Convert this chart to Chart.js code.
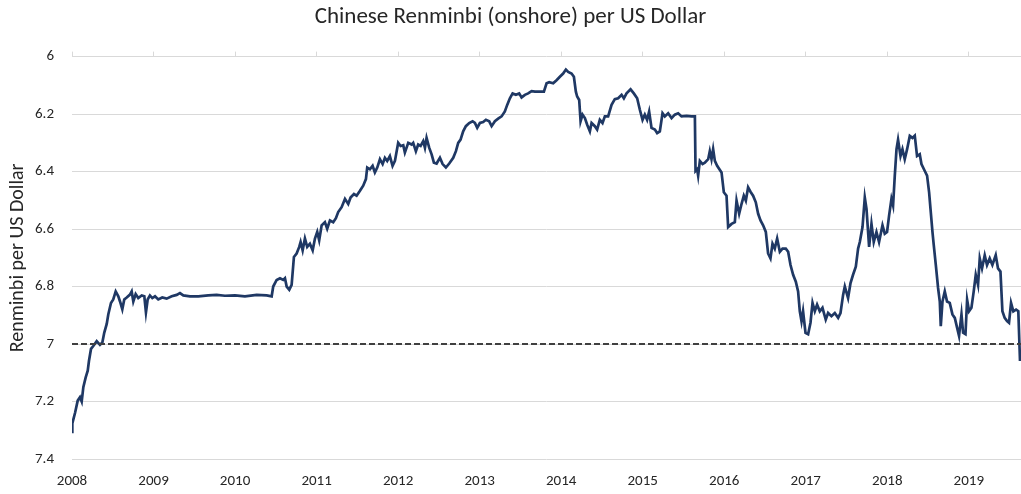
<!DOCTYPE html>
<html>
<head>
<meta charset="utf-8">
<script src="https://cdn.jsdelivr.net/npm/chart.js@4.4.1/dist/chart.umd.min.js"></script>
<style>
  body { margin: 0; background: #fff; }
</style>
</head>
<body>
<canvas id="cnyChart" width="1021" height="494"></canvas>
<script>
// decimal years and CNY per USD
var dates = [
  2008.000, 2008.004, 2008.037, 2008.070, 2008.098, 2008.119, 2008.139, 2008.168, 2008.193, 2008.208,
  2008.233, 2008.261, 2008.303, 2008.343, 2008.372, 2008.396, 2008.426, 2008.445, 2008.478, 2008.506,
  2008.536, 2008.568, 2008.589, 2008.617, 2008.641, 2008.671, 2008.711, 2008.732, 2008.752, 2008.781,
  2008.813, 2008.855, 2008.887, 2008.907, 2008.928, 2008.956, 2008.985, 2009.018, 2009.058, 2009.107,
  2009.161, 2009.223, 2009.284, 2009.324, 2009.365, 2009.447, 2009.549, 2009.671, 2009.774, 2009.876,
  2009.999, 2010.121, 2010.265, 2010.387, 2010.449, 2010.468, 2010.510, 2010.551, 2010.591, 2010.612,
  2010.633, 2010.665, 2010.694, 2010.722, 2010.755, 2010.787, 2010.804, 2010.829, 2010.857, 2010.885,
  2010.918, 2010.952, 2010.980, 2011.008, 2011.032, 2011.062, 2011.102, 2011.130, 2011.164, 2011.204,
  2011.237, 2011.265, 2011.307, 2011.348, 2011.388, 2011.417, 2011.458, 2011.491, 2011.532, 2011.572,
  2011.605, 2011.621, 2011.654, 2011.687, 2011.715, 2011.744, 2011.777, 2011.810, 2011.838, 2011.866,
  2011.899, 2011.932, 2011.961, 2012.001, 2012.031, 2012.063, 2012.083, 2012.124, 2012.166, 2012.185,
  2012.218, 2012.246, 2012.276, 2012.308, 2012.329, 2012.349, 2012.381, 2012.411, 2012.439, 2012.472,
  2012.513, 2012.546, 2012.586, 2012.627, 2012.676, 2012.709, 2012.737, 2012.766, 2012.798, 2012.831,
  2012.872, 2012.913, 2012.942, 2012.970, 2013.003, 2013.043, 2013.077, 2013.117, 2013.147, 2013.187,
  2013.227, 2013.269, 2013.309, 2013.338, 2013.371, 2013.404, 2013.444, 2013.485, 2013.514, 2013.555,
  2013.595, 2013.637, 2013.678, 2013.739, 2013.788, 2013.821, 2013.853, 2013.902, 2013.943, 2013.984,
  2014.024, 2014.058, 2014.086, 2014.127, 2014.156, 2014.180, 2014.196, 2014.221, 2014.238, 2014.262,
  2014.291, 2014.319, 2014.352, 2014.373, 2014.413, 2014.441, 2014.474, 2014.507, 2014.536, 2014.576,
  2014.618, 2014.658, 2014.699, 2014.741, 2014.769, 2014.802, 2014.851, 2014.891, 2014.932, 2014.965,
  2014.998, 2015.026, 2015.054, 2015.079, 2015.108, 2015.149, 2015.177, 2015.210, 2015.243, 2015.271,
  2015.312, 2015.354, 2015.394, 2015.435, 2015.476, 2015.538, 2015.599, 2015.640, 2015.648, 2015.668,
  2015.680, 2015.701, 2015.734, 2015.762, 2015.803, 2015.823, 2015.844, 2015.864, 2015.885, 2015.913,
  2015.967, 2015.995, 2016.028, 2016.048, 2016.090, 2016.130, 2016.151, 2016.183, 2016.212, 2016.240,
  2016.265, 2016.293, 2016.322, 2016.354, 2016.387, 2016.416, 2016.445, 2016.477, 2016.510, 2016.538,
  2016.567, 2016.592, 2016.620, 2016.649, 2016.682, 2016.715, 2016.755, 2016.784, 2016.813, 2016.845,
  2016.878, 2016.906, 2016.927, 2016.948, 2016.967, 2016.997, 2017.029, 2017.058, 2017.083, 2017.111,
  2017.139, 2017.172, 2017.205, 2017.245, 2017.274, 2017.315, 2017.356, 2017.397, 2017.426, 2017.458,
  2017.479, 2017.519, 2017.549, 2017.580, 2017.614, 2017.642, 2017.663, 2017.696, 2017.724, 2017.745,
  2017.777, 2017.806, 2017.834, 2017.867, 2017.899, 2017.941, 2017.969, 2017.997, 2018.022, 2018.051,
  2018.071, 2018.092, 2018.113, 2018.132, 2018.162, 2018.186, 2018.214, 2018.243, 2018.276, 2018.309,
  2018.337, 2018.365, 2018.398, 2018.419, 2018.460, 2018.488, 2018.513, 2018.530, 2018.554, 2018.570,
  2018.595, 2018.623, 2018.644, 2018.656, 2018.677, 2018.705, 2018.733, 2018.766, 2018.799, 2018.828,
  2018.856, 2018.880, 2018.910, 2018.930, 2018.959, 2018.979, 2019.003, 2019.032, 2019.060, 2019.085,
  2019.113, 2019.134, 2019.162, 2019.195, 2019.223, 2019.256, 2019.289, 2019.330, 2019.358, 2019.388,
  2019.412, 2019.440, 2019.469, 2019.493, 2019.518, 2019.546, 2019.579, 2019.607, 2019.628
];
var rates = [
  7.306, 7.276, 7.240, 7.197, 7.185, 7.200, 7.150, 7.116, 7.093, 7.059,
  7.017, 7.007, 6.990, 7.003, 6.995, 6.960, 6.930, 6.897, 6.857, 6.845,
  6.817, 6.834, 6.852, 6.879, 6.845, 6.838, 6.828, 6.817, 6.852, 6.826,
  6.840, 6.831, 6.834, 6.890, 6.845, 6.831, 6.840, 6.834, 6.845, 6.838,
  6.842, 6.834, 6.829, 6.823, 6.831, 6.834, 6.834, 6.831, 6.829, 6.832,
  6.831, 6.834, 6.829, 6.831, 6.834, 6.800, 6.777, 6.771, 6.777, 6.771,
  6.800, 6.811, 6.794, 6.697, 6.685, 6.662, 6.645, 6.674, 6.633, 6.662,
  6.651, 6.674, 6.633, 6.610, 6.639, 6.587, 6.576, 6.599, 6.570, 6.576,
  6.562, 6.541, 6.524, 6.495, 6.513, 6.490, 6.478, 6.484, 6.467, 6.449,
  6.426, 6.386, 6.392, 6.380, 6.403, 6.386, 6.357, 6.374, 6.352, 6.363,
  6.346, 6.380, 6.363, 6.300, 6.311, 6.308, 6.334, 6.300, 6.306, 6.300,
  6.329, 6.306, 6.311, 6.294, 6.317, 6.283, 6.317, 6.340, 6.369, 6.372,
  6.352, 6.374, 6.386, 6.372, 6.352, 6.329, 6.300, 6.289, 6.260, 6.242,
  6.231, 6.225, 6.231, 6.248, 6.231, 6.228, 6.220, 6.225, 6.242, 6.225,
  6.216, 6.208, 6.191, 6.168, 6.145, 6.128, 6.133, 6.128, 6.142, 6.133,
  6.128, 6.120, 6.122, 6.122, 6.122, 6.093, 6.089, 6.093, 6.082, 6.070,
  6.059, 6.045, 6.053, 6.059, 6.070, 6.122, 6.139, 6.151, 6.225, 6.202,
  6.214, 6.237, 6.260, 6.231, 6.242, 6.254, 6.220, 6.231, 6.208, 6.208,
  6.168, 6.148, 6.145, 6.133, 6.145, 6.128, 6.114, 6.128, 6.145, 6.185,
  6.220, 6.202, 6.220, 6.191, 6.248, 6.254, 6.266, 6.260, 6.197, 6.208,
  6.197, 6.214, 6.202, 6.197, 6.208, 6.206, 6.208, 6.208, 6.398, 6.392,
  6.414, 6.363, 6.374, 6.369, 6.357, 6.329, 6.357, 6.322, 6.363, 6.380,
  6.403, 6.472, 6.484, 6.593, 6.582, 6.576, 6.501, 6.547, 6.513, 6.484,
  6.501, 6.455, 6.470, 6.484, 6.507, 6.547, 6.570, 6.587, 6.610, 6.685,
  6.702, 6.651, 6.668, 6.633, 6.679, 6.668, 6.668, 6.679, 6.725, 6.759,
  6.783, 6.817, 6.886, 6.921, 6.886, 6.961, 6.966, 6.926, 6.857, 6.886,
  6.863, 6.886, 6.874, 6.915, 6.892, 6.903, 6.892, 6.909, 6.892, 6.829,
  6.800, 6.840, 6.788, 6.759, 6.731, 6.668, 6.645, 6.593, 6.490, 6.530,
  6.662, 6.582, 6.645, 6.610, 6.645, 6.587, 6.616, 6.610, 6.553, 6.495,
  6.518, 6.414, 6.322, 6.289, 6.346, 6.322, 6.357, 6.322, 6.276, 6.283,
  6.275, 6.346, 6.340, 6.374, 6.398, 6.414, 6.472, 6.530, 6.610, 6.656,
  6.725, 6.805, 6.852, 6.938, 6.852, 6.817, 6.852, 6.857, 6.897, 6.909,
  6.943, 6.972, 6.897, 6.961, 6.966, 6.846, 6.886, 6.874, 6.817, 6.759,
  6.794, 6.702, 6.737, 6.691, 6.725, 6.702, 6.725, 6.691, 6.737, 6.748,
  6.886, 6.909, 6.920, 6.926, 6.857, 6.886, 6.880, 6.886, 7.059
];
var yearTicks = [2008, 2009, 2010, 2011, 2012, 2013, 2014, 2015, 2016, 2017, 2018, 2019];
var rateTicks = [6, 6.2, 6.4, 6.6, 6.8, 7, 7.2, 7.4];
var refLevel = 7;
var xStart = 2008;
var xEnd = 2019.64;

var textColor = '#262626';
var gridColor = '#d9d9d9';
var fontFamily = 'Carlito, Lato, sans-serif';

function useTicks(list) {
  return function(scale) {
    scale.ticks = list.map(function(v) { return { value: v }; });
  };
}

var points = dates.map(function(d, i) { return { x: d, y: rates[i] }; });

var ctx = document.getElementById('cnyChart').getContext('2d');
var cnyChart = new Chart(ctx, {
  type: 'line',
  data: {
    datasets: [{
      label: 'Renminbi per US Dollar',
      data: points,
      borderColor: '#1f3864',
      borderWidth: 2.7,
      pointRadius: 0,
      tension: 0,
      order: 1
    }, {
      label: '7.0',
      data: [{ x: xStart, y: refLevel }, { x: xEnd, y: refLevel }],
      borderColor: '#404040',
      borderWidth: 2,
      borderDash: [6, 3],
      pointRadius: 0,
      order: 0
    }]
  },
  options: {
    responsive: false,
    animation: false,
    layout: { padding: { left: 0, right: 0, top: 3, bottom: 0 } },
    plugins: {
      legend: { display: false },
      tooltip: { enabled: false },
      title: {
        display: true,
        text: 'Chinese Renminbi (onshore) per US Dollar',
        color: textColor,
        font: { family: fontFamily, size: 23, weight: 'normal', lineHeight: 1.2 },
        padding: { top: 0, bottom: 21 }
      }
    },
    scales: {
      x: {
        type: 'linear',
        min: xStart,
        max: xEnd,
        afterBuildTicks: useTicks(yearTicks),
        afterFit: function(scale) { scale.height = 35; },
        grid: { display: false, drawTicks: false },
        border: { display: false },
        ticks: {
          padding: 13,
          color: textColor,
          font: { family: fontFamily, size: 15 },
          maxRotation: 0,
          callback: function(v) { return String(v); }
        }
      },
      xTop: {
        type: 'linear',
        position: 'top',
        min: xStart,
        max: xEnd,
        afterBuildTicks: useTicks(yearTicks),
        afterFit: function(scale) { scale.height = 5; },
        grid: { drawOnChartArea: false, drawTicks: true, tickLength: 5, color: gridColor },
        border: { display: false },
        ticks: { display: false }
      },
      y: {
        reverse: true,
        min: 6,
        max: 7.4,
        afterBuildTicks: useTicks(rateTicks),
        afterFit: function(scale) { scale.width = 72; },
        grid: { color: gridColor, drawTicks: false },
        border: { display: false },
        ticks: {
          padding: 18,
          color: textColor,
          font: { family: fontFamily, size: 15 },
          callback: function(v) { return String(Math.round(v * 10) / 10); }
        },
        title: {
          display: true,
          text: 'Renminbi per US Dollar',
          color: textColor,
          font: { family: fontFamily, size: 20 },
          padding: { top: 6, bottom: 0 }
        }
      }
    }
  }
});
</script>
</body>
</html>
